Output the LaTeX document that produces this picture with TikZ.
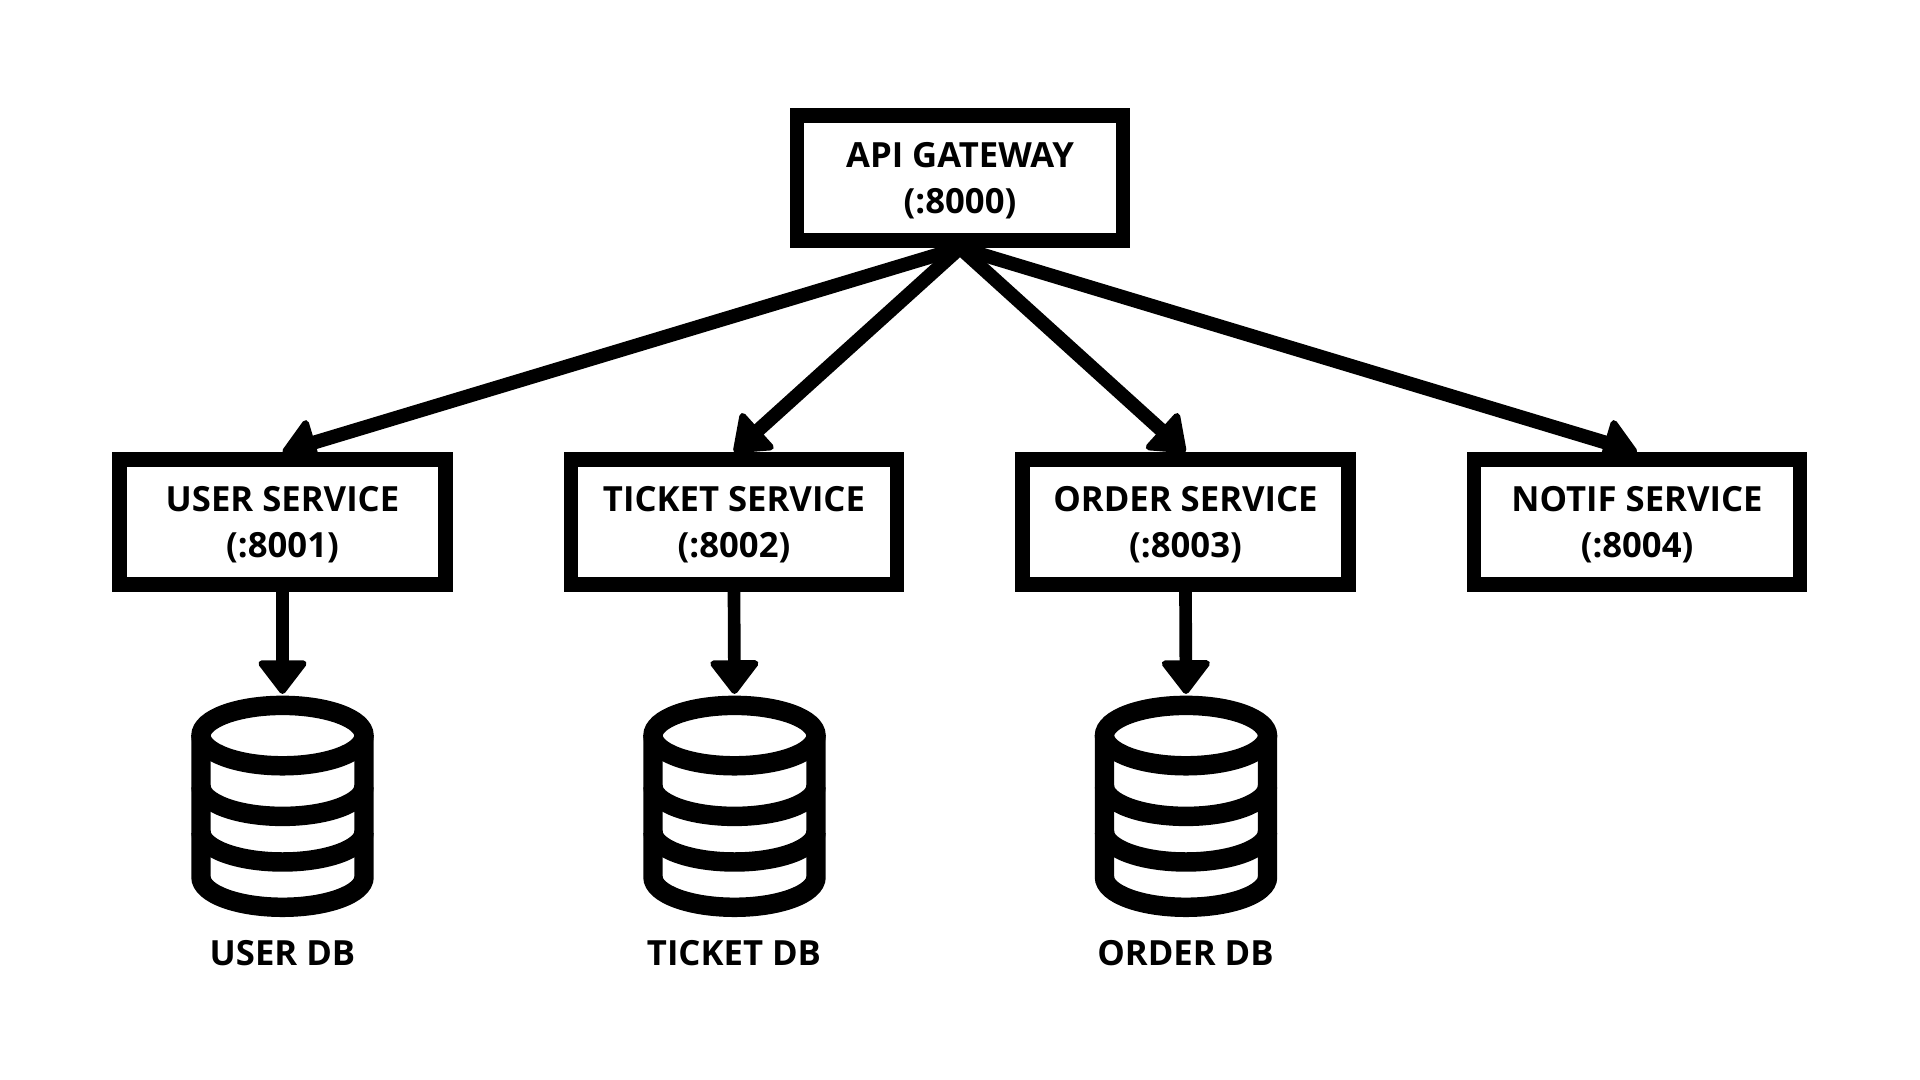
\documentclass[tikz,border=0pt]{standalone}
\usepackage{fontspec}
\setmainfont{Open Sans}
\usetikzlibrary{arrows.meta,backgrounds}
\tikzset{
  servicebox/.style={draw,fill=white,line width=10.9pt,minimum width=244.5pt,minimum height=94pt,
    align=center,text depth=-1.5pt,font=\fontsize{26}{34.5}\selectfont\bfseries},
  dblabel/.style={font=\fontsize{26}{34.5}\selectfont\bfseries},
  calls/.style={line width=10.4pt,-{Triangle[length=27pt,width=40pt,round,line width=5pt]}},
  stores/.style={line width=9.5pt,-{Triangle[length=27pt,width=40pt,round,line width=5pt]}},
  pics/dbstack/.style={code={
    \coordinate (-top) at (0,41.6);
    \draw[line width=14.6pt] (0,0) ellipse [x radius=81.5,y radius=30.2];
    \draw[line width=14.6pt] (-81.5,0) -- (-81.5,-141.5) arc [start angle=180,end angle=360,x radius=81.5,y radius=30.2] -- (81.5,0);
    \draw[line width=14.6pt] (-81.5,-50.6) arc [start angle=180,end angle=360,x radius=81.5,y radius=30.2];
    \draw[line width=14.6pt] (-81.5,-96.2) arc [start angle=180,end angle=360,x radius=81.5,y radius=30.2];
  }}
}
\begin{document}
\begin{tikzpicture}[x=0.75pt,y=0.75pt]
      \useasboundingbox (0,0) rectangle (1920,1080);
      \node[servicebox] (gateway) at (960,902) {API GATEWAY\\(:8000)};
      \node[servicebox] (user) at (282.5,558) {USER SERVICE\\(:8001)};
      \node[servicebox] (ticket) at (734,558) {TICKET SERVICE\\(:8002)};
      \node[servicebox] (order) at (1185.5,558) {ORDER SERVICE\\(:8003)};
      \node[servicebox] (notif) at (1637,558) {NOTIF SERVICE\\(:8004)};
      \pic (userdb) at (282.5,344.4) {dbstack};
      \pic (ticketdb) at (734.5,344.4) {dbstack};
      \pic (orderdb) at (1186,344.4) {dbstack};
      \node[dblabel] (userlabel) at (282.5,127.3) {USER DB};
      \node[dblabel] (ticketlabel) at (734,127.3) {TICKET DB};
      \node[dblabel] (orderlabel) at (1185.5,127.3) {ORDER DB};
      \begin{scope}[on background layer]
        \draw[calls] (gateway.south) to (user.north);
        \draw[calls] (gateway.south) to (ticket.north);
        \draw[calls] (gateway.south) to (order.north);
        \draw[calls] (gateway.south) to (notif.north);
      \end{scope}
      \draw[stores] (user.south) to (userdb-top);
      \draw[stores] (ticket.south) to (ticketdb-top);
      \draw[stores] (order.south) to (orderdb-top);
    \end{tikzpicture}
\end{document}
